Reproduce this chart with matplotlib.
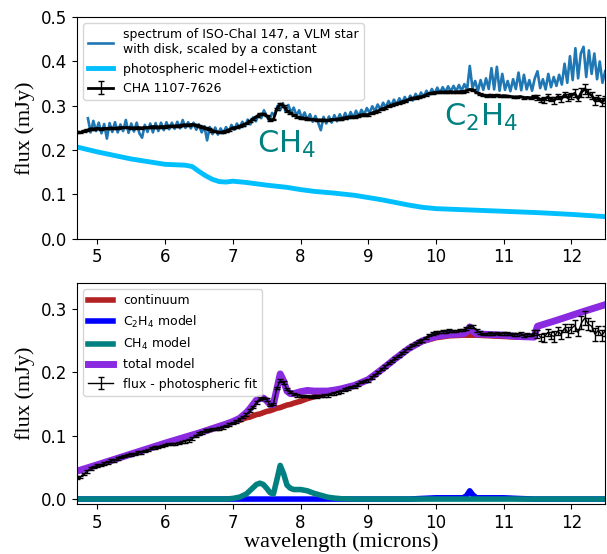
import numpy as np
import matplotlib
matplotlib.use('Agg')
import matplotlib.pyplot as plt

plt.rcParams.update({'font.size': 12})

# ---- top panel: photospheric model + extinction ----
photo_wl = [4.7, 5.0, 5.5, 6.0, 6.3, 6.4, 6.5, 6.6, 6.7, 6.8, 6.9, 7.0, 7.2, 7.5, 7.8,
            8.0, 8.2, 8.5, 8.8, 9.0, 9.2, 9.4, 9.6, 9.8, 10.0, 10.5, 11.0, 11.5, 12.0, 12.5]
photo = [0.207, 0.196, 0.180, 0.168, 0.166, 0.163, 0.152, 0.142, 0.134, 0.129, 0.128, 0.130,
         0.127, 0.121, 0.116, 0.111, 0.107, 0.103, 0.098, 0.093, 0.088, 0.082, 0.076, 0.071,
         0.068, 0.065, 0.062, 0.059, 0.055, 0.050]

# CHA 1107-7626 flux, 4.70 .. 12.50 um in 0.05 um steps
cha_flux = [
    0.241, 0.240, 0.243, 0.245, 0.248, 0.248,                                  # 4.70-4.95
    0.249, 0.248, 0.249, 0.249, 0.250, 0.249, 0.250, 0.251, 0.251, 0.251,      # 5.00-5.45
    0.250, 0.250, 0.251, 0.250, 0.251, 0.251, 0.253, 0.253, 0.252, 0.253,      # 5.50-5.95
    0.253, 0.254, 0.254, 0.254, 0.255, 0.256, 0.257, 0.257, 0.258, 0.257,      # 6.00-6.45
    0.255, 0.252, 0.250, 0.247, 0.244, 0.242, 0.240, 0.241, 0.243, 0.246,      # 6.50-6.95
    0.250, 0.251, 0.254, 0.257, 0.260, 0.265, 0.270, 0.276, 0.281, 0.281,      # 7.00-7.45
    0.278, 0.268, 0.269, 0.293, 0.304, 0.300, 0.289, 0.283, 0.279, 0.275,      # 7.50-7.95
    0.273, 0.272, 0.271, 0.269, 0.269, 0.268, 0.268, 0.268, 0.267, 0.269,      # 8.00-8.45
    0.269, 0.270, 0.271, 0.273, 0.274, 0.275, 0.275, 0.277, 0.280, 0.280,      # 8.50-8.95
    0.280, 0.283, 0.286, 0.289, 0.293, 0.295, 0.299, 0.301, 0.304, 0.306,      # 9.00-9.45
    0.309, 0.311, 0.314, 0.317, 0.318, 0.320, 0.321, 0.324, 0.328, 0.329,      # 9.50-9.95
    0.330, 0.331, 0.331, 0.331, 0.332, 0.331, 0.331, 0.332, 0.332, 0.334,      # 10.00-10.45
    0.337, 0.336, 0.330, 0.326, 0.324, 0.323, 0.324, 0.323, 0.324, 0.322,      # 10.50-10.95
    0.323, 0.322, 0.321, 0.320, 0.320, 0.321, 0.318, 0.319, 0.318, 0.321,      # 11.00-11.45
    0.319, 0.313, 0.313, 0.320, 0.315, 0.313, 0.321, 0.315, 0.325, 0.318,      # 11.50-11.95
    0.323, 0.328, 0.316, 0.331, 0.338, 0.328, 0.324, 0.311, 0.317, 0.308,      # 12.00-12.45
    0.315]                                                                     # 12.50
cha_wl = np.linspace(4.7, 12.5, len(cha_flux))
# uncertainties: small and flat below 11.45 um, larger in the noisy red end
err_quiet = 0.002
err_red = [0.004, 0.006, 0.005, 0.007, 0.006, 0.005, 0.008, 0.006, 0.007, 0.006, 0.008,
           0.007, 0.009, 0.006, 0.010, 0.011, 0.009, 0.008, 0.010, 0.007, 0.009, 0.008]
cha_err = np.r_[np.full(len(cha_flux) - len(err_red), err_quiet), err_red]

# ISO-ChaI 147 spectrum (scaled), 4.86 .. 12.50 um in 0.04 um steps
spec_flux = [
    0.272, 0.240, 0.266, 0.243, 0.262, 0.238, 0.259, 0.226, 0.261, 0.241, 0.263, 0.240, 0.258,
    0.243, 0.268, 0.239, 0.260, 0.242, 0.262, 0.238, 0.228, 0.257, 0.241, 0.260, 0.240,
    0.261, 0.243, 0.262, 0.245, 0.263, 0.247, 0.262, 0.248, 0.264, 0.249, 0.268, 0.250, 0.263,
    0.249, 0.262, 0.246, 0.258, 0.240, 0.254, 0.222, 0.252, 0.236, 0.251, 0.235, 0.249,
    0.238, 0.252, 0.241, 0.257, 0.246, 0.260, 0.249, 0.264, 0.254, 0.269, 0.258, 0.274, 0.265,
    0.280, 0.272, 0.290, 0.276, 0.266, 0.284, 0.279, 0.300, 0.290, 0.306, 0.287, 0.302,
    0.285, 0.296, 0.278, 0.290, 0.272, 0.285, 0.268, 0.281, 0.264, 0.277, 0.262, 0.245, 0.275,
    0.260, 0.276, 0.262, 0.279, 0.265, 0.281, 0.268, 0.284, 0.270, 0.286, 0.273, 0.289,
    0.276, 0.291, 0.280, 0.295, 0.284, 0.299, 0.288, 0.303, 0.292, 0.307, 0.296, 0.311, 0.300,
    0.314, 0.303, 0.317, 0.306, 0.320, 0.309, 0.323, 0.312, 0.327, 0.317, 0.330, 0.320,
    0.334, 0.324, 0.338, 0.327, 0.341, 0.329, 0.342, 0.331, 0.344, 0.332, 0.345, 0.333, 0.347,
    0.334, 0.349, 0.336, 0.390, 0.340, 0.356, 0.333, 0.358, 0.336, 0.362, 0.338, 0.385,
    0.337, 0.388, 0.334, 0.372, 0.336, 0.356, 0.333, 0.360, 0.338, 0.375, 0.335, 0.370, 0.337,
    0.358, 0.334, 0.362, 0.378, 0.340, 0.360, 0.337, 0.372, 0.342, 0.365, 0.345, 0.370,
    0.348, 0.395, 0.352, 0.412, 0.358, 0.430, 0.362, 0.418, 0.433, 0.365, 0.425, 0.372, 0.418,
    0.360, 0.400, 0.352, 0.378]
spec_wl = np.linspace(4.86, 12.50, len(spec_flux))

# ---- bottom panel: model components ----
model_wl = [4.7, 5.0, 5.5, 6.0, 6.5, 6.9, 7.0, 7.1, 7.2, 7.25, 7.3, 7.35, 7.4, 7.45, 7.5,
            7.55, 7.6, 7.65, 7.7, 7.75, 7.8, 7.85, 7.9, 8.0, 8.1, 8.2, 8.3, 8.4, 8.5, 8.6,
            8.8, 9.0, 9.2, 9.4, 9.6, 9.8, 10.0, 10.2, 10.4, 10.45, 10.5, 10.55, 10.6, 10.8,
            11.0, 11.2, 11.45, 11.5, 11.8, 12.0, 12.2, 12.5]
continuum = [0.044, 0.054, 0.071, 0.088, 0.104, 0.118, 0.121, 0.124, 0.128, 0.129, 0.131,
             0.133, 0.134, 0.136, 0.138, 0.139, 0.141, 0.143, 0.144, 0.146, 0.148, 0.149,
             0.151, 0.154, 0.158, 0.161, 0.164, 0.167, 0.170, 0.173, 0.179, 0.188, 0.204,
             0.221, 0.237, 0.248, 0.254, 0.257, 0.258, 0.258, 0.258, 0.258, 0.258, 0.257,
             0.256, 0.255, 0.255, 0.272, 0.282, 0.289, 0.296, 0.306]
ch4_model = [0, 0, 0, 0, 0, 0, 0.001, 0.003, 0.008, 0.013, 0.018, 0.023, 0.025, 0.023, 0.017,
             0.010, 0.008, 0.030, 0.053, 0.040, 0.022, 0.017, 0.015, 0.015, 0.013, 0.009,
             0.006, 0.003, 0.0015, 0.0005, 0, 0, 0, 0, 0, 0, 0, 0, 0, 0, 0, 0, 0, 0,
             0, 0, 0, 0, 0, 0, 0, 0]
c2h4_model = [0, 0, 0, 0, 0, 0, 0, 0, 0, 0, 0, 0, 0, 0, 0, 0, 0, 0, 0, 0, 0, 0, 0, 0, 0, 0,
              0, 0, 0, 0, 0, 0, 0, 0, 0, 0.001, 0.002, 0.002, 0.002, 0.005, 0.013, 0.006,
              0.002, 0.002, 0.002, 0.001, 0, 0, 0, 0, 0, 0]
total_model = np.array(continuum) + np.array(ch4_model) + np.array(c2h4_model)

# residual = observed flux minus photospheric fit
resid = np.array(cha_flux) - np.interp(cha_wl, photo_wl, photo)

fig = plt.figure(figsize=(6.07, 5.54), dpi=100)
ax1 = fig.add_axes([0.127, 0.569, 0.870, 0.400])
ax2 = fig.add_axes([0.127, 0.090, 0.870, 0.399])
serif = 'Liberation Serif'

# --- top ---
ax1.plot(spec_wl, spec_flux, color='#1f77b4', lw=1.9,
         label='spectrum of ISO-ChaI 147, a VLM star\nwith disk, scaled by a constant')
ax1.plot(photo_wl, photo, color='deepskyblue', lw=3.5, label='photospheric model+extiction')
ax1.errorbar(cha_wl, cha_flux, yerr=cha_err, color='black', lw=2, elinewidth=1,
             capsize=2, label='CHA 1107-7626')
ax1.text(7.36, 0.194, r'CH$_4$', color='teal', fontsize=22)
ax1.text(10.12, 0.254, r'C$_2$H$_4$', color='teal', fontsize=22)
ax1.set_xlim(4.7, 12.5)
ax1.set_ylim(0, 0.5)
ax1.set_yticks(np.arange(0, 0.51, 0.1))
ax1.set_xticks(range(5, 13))
ax1.set_ylabel('flux (mJy)', family=serif, fontsize=16)
ax1.legend(loc='upper left', fontsize=9)

# --- bottom ---
ax2.plot(model_wl, continuum, color='firebrick', lw=4, label='continuum')
ax2.plot(model_wl, c2h4_model, color='blue', lw=4, label=r'C$_2$H$_4$ model')
ax2.plot(model_wl, ch4_model, color='teal', lw=4, label=r'CH$_4$ model')
ax2.plot(model_wl, total_model, color='blueviolet', lw=5, label='total model')
ax2.errorbar(cha_wl, resid, yerr=cha_err, color='black', lw=1, elinewidth=1,
             capsize=2, label='flux - photospheric fit')
ax2.set_xlim(4.7, 12.5)
ax2.set_ylim(-0.008, 0.34)
ax2.set_yticks([0.0, 0.1, 0.2, 0.3])
ax2.set_xticks(range(5, 13))
ax2.set_ylabel('flux (mJy)', family=serif, fontsize=16)
ax2.set_xlabel('wavelength (microns)', family=serif, fontsize=16, labelpad=0)
ax2.legend(loc='upper left', fontsize=9)

fig.savefig('out.png', dpi=100)
